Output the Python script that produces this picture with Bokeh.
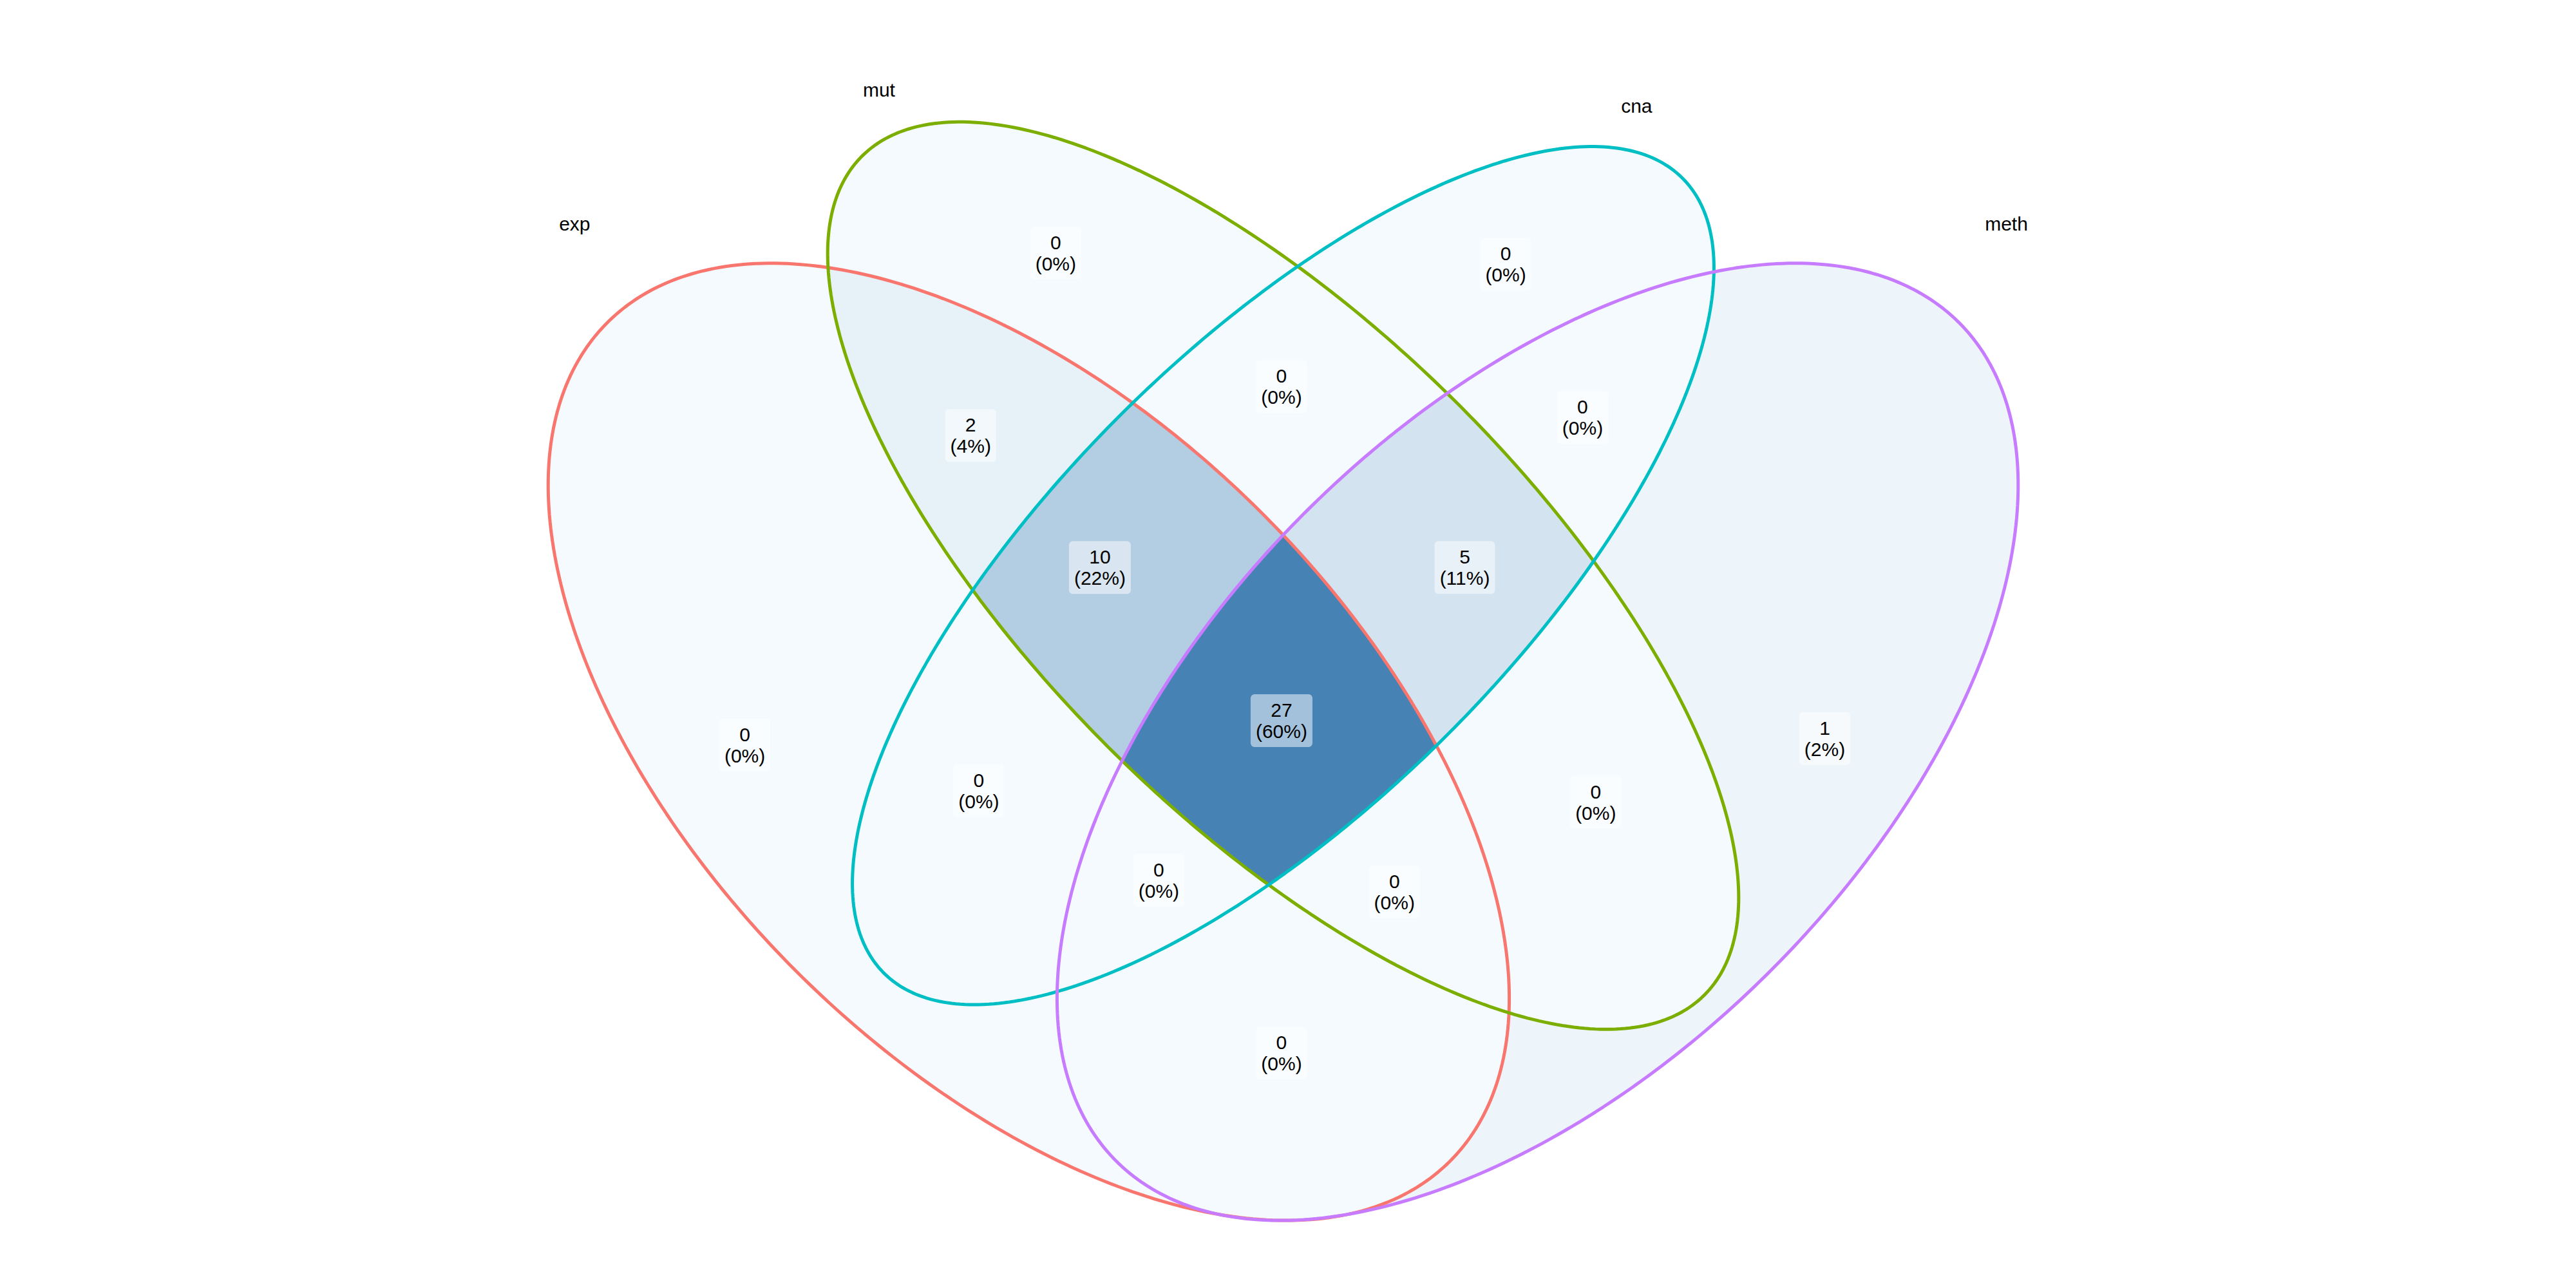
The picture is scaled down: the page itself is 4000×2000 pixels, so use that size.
import numpy as np
from bokeh.plotting import figure
from bokeh.models import Range1d
from bokeh.core.properties import value
from bokeh.embed import file_html
from bokeh.resources import INLINE

# ---- data ----
set_names = ["exp", "mut", "cna", "meth"]
set_colors = ["#F8766D", "#7CAE00", "#00BFC4", "#C77CFF"]
# region membership (exp, mut, cna, meth) and counts
regions = [(1,0,0,0),(0,1,0,0),(0,0,1,0),(0,0,0,1),(1,1,0,0),(0,1,1,0),(0,0,1,1),
           (1,1,1,0),(0,1,1,1),(1,1,1,1),(1,0,1,0),(1,0,1,1),(1,1,0,1),(0,1,0,1),(1,0,0,1)]
counts = [0,0,0,1,2,0,0,10,5,27,0,0,0,0,0]
# label positions (screen px of a 1568x784 canvas)
label_x = [455,645,920,1115,593,783,967,672,895,783,598,708,852,975,783]
label_y = [457,155,162,453,267,237,256,348,348,442,485,540,547,492,646]
name_x = [351,537,1000,1226]
name_y = [137,55,65,137]
# ellipse geometry: center x, center y (screen), semi-major, semi-minor, angle (deg, screen)
ell_cx = [628.5,784,784,939.5]
ell_cy = [455,353,353,455]
ell_a = [364,364,345,364]
ell_b = [200,150,140,200]
ell_ang = [45,45,-45,-45]

W, H = 1568, 784
total = sum(counts)

def inside(px, py, i):
    t = np.deg2rad(ell_ang[i])
    dx, dy = px-ell_cx[i], py-ell_cy[i]
    u = dx*np.cos(t)+dy*np.sin(t)
    v = -dx*np.sin(t)+dy*np.cos(t)
    return (u/ell_a[i])**2+(v/ell_b[i])**2 <= 1

p = figure(width=3984, height=1984, output_backend="svg", toolbar_location=None,
           x_range=Range1d(0, W), y_range=Range1d(0, H), min_border=0)
p.axis.visible = False
p.grid.visible = False
p.outline_line_color = None

# fill raster
N = 2
xs = (np.arange(W*N)+0.5)/N
ys_data = (np.arange(H*N)+0.5)/N
X, Yd = np.meshgrid(xs, ys_data)
Ys = H - Yd
masks = [inside(X, Ys, i) for i in range(4)]
img = np.zeros(X.shape, dtype=np.uint32)
view = img.view(dtype=np.uint8).reshape(X.shape+(4,))
lo = np.array([0xF4,0xFA,0xFE]); hi = np.array([0x46,0x82,0xB4])
cmax = max(counts)
for mem, c in zip(regions, counts):
    m = np.ones(X.shape, bool)
    for i in range(4):
        m &= masks[i] if mem[i] else ~masks[i]
    col = lo + (hi-lo)*(c/cmax)
    view[m,0], view[m,1], view[m,2], view[m,3] = int(col[0]), int(col[1]), int(col[2]), 255
p.image_rgba(image=[img], x=0, y=0, dw=W, dh=H)

# outlines
th = np.linspace(0, 2*np.pi, 400)
for i in range(4):
    t = np.deg2rad(ell_ang[i])
    u, v = ell_a[i]*np.cos(th), ell_b[i]*np.sin(th)
    ex = ell_cx[i] + u*np.cos(t) - v*np.sin(t)
    ey = ell_cy[i] + u*np.sin(t) + v*np.cos(t)
    p.line(ex, H-ey, line_color=set_colors[i], line_width=5)

labels = [f"{c}\n({round(100*c/total)}%)" for c in counts]
p.text(x=label_x, y=[H-y for y in label_y], text=labels, text_align="center",
       text_baseline="middle", text_font=value("Liberation Sans"), text_font_size="30px",
       text_color="black", text_line_height=1.0,
       background_fill_color="white", background_fill_alpha=0.5, padding=8, border_radius=6)
p.text(x=name_x, y=[H-y for y in name_y], text=set_names, text_align="center",
       text_baseline="middle", text_font=value("Liberation Sans"), text_font_size="30px",
       text_color="black")

open("out.html", "w").write(file_html(p, INLINE))
